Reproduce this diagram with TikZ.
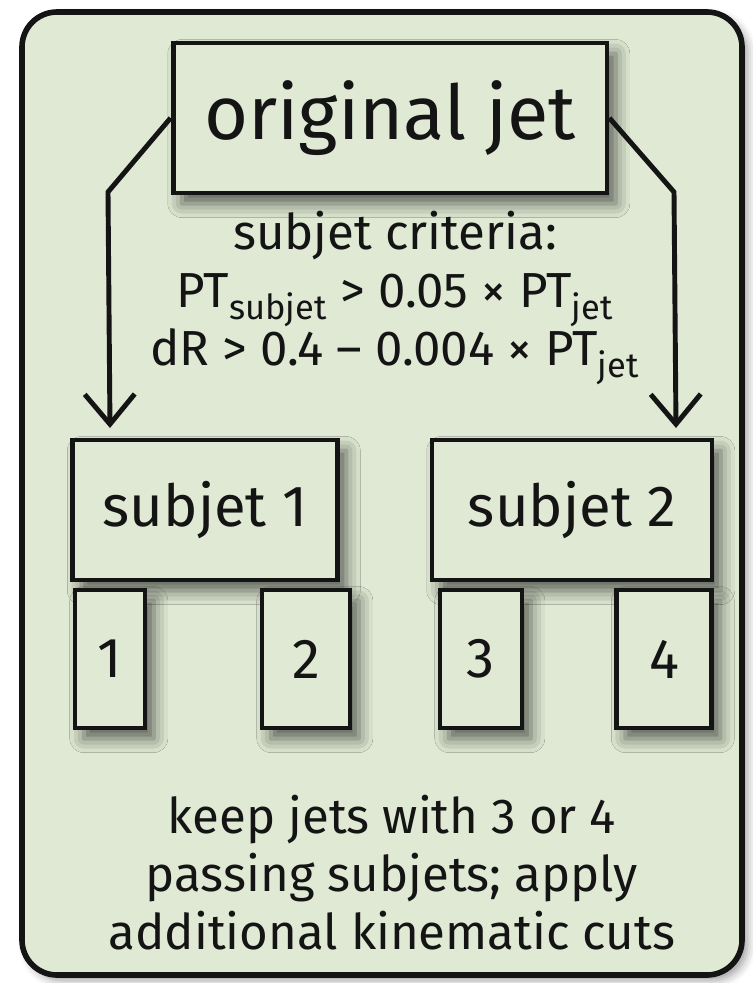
\documentclass[tikz,border=0pt]{standalone}
\usepackage{fontspec}
\setmainfont{Fira Sans}
\usetikzlibrary{arrows.meta,positioning,shadows.blur}
\definecolor{JSGreen}{HTML}{DFE9D3}
\definecolor{JSInk}{HTML}{141414}

\begin{document}
\begin{tikzpicture}[
        x=0.02cm,y=-0.02cm,
        every node/.style={font=\fontsize{28}{33}\selectfont,text=JSInk},
        box/.style={draw=JSInk,line width=2.8pt,fill=JSGreen,align=center,
          blur shadow={shadow xshift=5pt,shadow yshift=-6pt,shadow blur radius=8pt,shadow opacity=60}},
        cutbox/.style={box,minimum height=2.76cm,font=\fontsize{32}{36}\selectfont},
        arrow/.style={-{Straight Barb[length=6mm,width=10mm]},line width=2.8pt,draw=JSInk}
      ]
      \useasboundingbox (0,0) rectangle (752,983);
      % frame
      \draw[line width=3.2pt,draw=JSInk,fill=JSGreen,rounded corners=0.7cm,
        blur shadow={shadow xshift=3pt,shadow yshift=-3pt,shadow blur radius=5pt,shadow opacity=40}]
        (22,12) rectangle (742,975);

      \node[box,minimum width=8.68cm,minimum height=3cm,font=\fontsize{43}{48}\selectfont] (orig) at (390,118) {original jet};
      \node[align=center] (crit) at (395,298) {subjet criteria:\\PT\textsubscript{subjet} > 0.05 × PT\textsubscript{jet}\\dR > 0.4 – 0.004 × PT\textsubscript{jet}};

      \node[box,minimum width=5.3cm,minimum height=2.8cm,font=\fontsize{33}{38}\selectfont] (sub1) at (205,510) {subjet 1};
      \node[box,minimum width=5.6cm,minimum height=2.8cm,font=\fontsize{33}{38}\selectfont] (sub2) at (572,510) {subjet 2};

      \node[cutbox,minimum width=1.4cm] (c1) at (110,659) {1};
      \node[cutbox,minimum width=1.76cm] (c2) at (306,659) {2};
      \node[cutbox,minimum width=1.64cm] (c3) at (481,659) {3};
      \node[cutbox,minimum width=1.9cm] (c4) at (664,659) {4};

      \node[align=center] (note) at (392,873) {keep jets with 3 or 4\\passing subjets; apply\\additional kinematic cuts};

      \coordinate (lbend) at (108,192);
      \coordinate (lend) at (110,428);
      \coordinate (rbend) at (674,192);
      \coordinate (rend) at (676,428);
      \draw[arrow] (orig.west) -- (lbend) -- (lend);
      \draw[arrow] (orig.east) -- (rbend) -- (rend);
    \end{tikzpicture}
\end{document}
